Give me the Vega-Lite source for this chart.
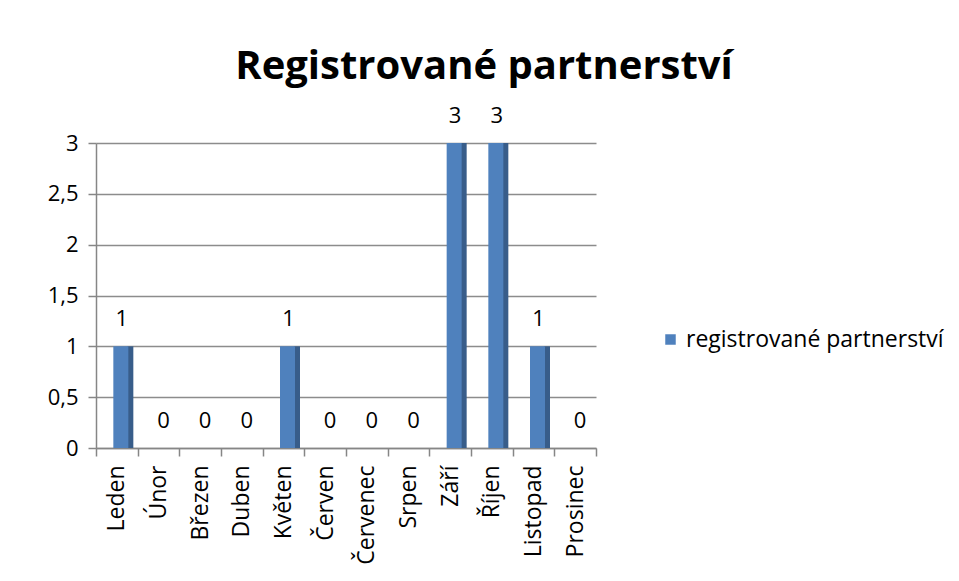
{
  "$schema": "https://vega.github.io/schema/vega-lite/v6.json",
  "autosize": {"type": "none"},
  "width": 500,
  "height": 305,
  "padding": {"left": 96, "top": 143, "right": 363, "bottom": 133},
  "background": "white",
  "title": {
    "text": "Registrované partnerství",
    "font": "Open Sans",
    "fontSize": 40,
    "fontWeight": "bold",
    "color": "#000000",
    "anchor": "middle",
    "frame": "group",
    "dx": 138,
    "offset": 18
  },
  "data": {
    "values": [
      {"mesic": "Leden", "pocet": 1, "serie": "registrované partnerství"},
      {"mesic": "Únor", "pocet": 0, "serie": "registrované partnerství"},
      {"mesic": "Březen", "pocet": 0, "serie": "registrované partnerství"},
      {"mesic": "Duben", "pocet": 0, "serie": "registrované partnerství"},
      {"mesic": "Květen", "pocet": 1, "serie": "registrované partnerství"},
      {"mesic": "Červen", "pocet": 0, "serie": "registrované partnerství"},
      {"mesic": "Červenec", "pocet": 0, "serie": "registrované partnerství"},
      {"mesic": "Srpen", "pocet": 0, "serie": "registrované partnerství"},
      {"mesic": "Září", "pocet": 3, "serie": "registrované partnerství"},
      {"mesic": "Říjen", "pocet": 3, "serie": "registrované partnerství"},
      {"mesic": "Listopad", "pocet": 1, "serie": "registrované partnerství"},
      {"mesic": "Prosinec", "pocet": 0, "serie": "registrované partnerství"}
    ]
  },
  "encoding": {
    "x": {
      "field": "mesic",
      "type": "nominal",
      "sort": null,
      "scale": {"paddingInner": 0, "paddingOuter": 0},
      "axis": {
        "title": null,
        "labelAngle": -90,
        "labelAlign": "right",
        "labelBaseline": "middle",
        "labelFont": "Open Sans",
        "labelFontSize": 23,
        "labelColor": "#000000",
        "labelPadding": 9,
        "labelLimit": 0,
        "tickBand": "extent",
        "tickSize": 8,
        "tickColor": "#868686",
        "tickWidth": 1.5,
        "domainColor": "#868686",
        "domainWidth": 1.5,
        "grid": false
      }
    },
    "y": {
      "field": "pocet",
      "type": "quantitative",
      "scale": {"domain": [0, 3], "nice": false},
      "axis": {
        "title": null,
        "values": [0, 0.5, 1, 1.5, 2, 2.5, 3],
        "labelExpr": "replace(format(datum.value, '~g'), '.', ',')",
        "labelFont": "Open Sans",
        "labelFontSize": 22,
        "labelColor": "#000000",
        "labelPadding": 10,
        "tickSize": 8,
        "tickColor": "#868686",
        "tickWidth": 1.5,
        "domainColor": "#868686",
        "domainWidth": 1.5,
        "grid": true,
        "gridColor": "#8c8c8c",
        "gridWidth": 1.5
      }
    }
  },
  "layer": [
    {
      "mark": {"type": "bar", "width": 6, "xOffset": 13.5, "color": "#385D8A", "y2": 305},
      "encoding": {
        "y": {"field": "pocet", "type": "quantitative"}
      }
    },
    {
      "mark": {"type": "bar", "width": 15, "xOffset": 4, "color": "#4F81BD"},
      "encoding": {
        "color": {
          "field": "serie",
          "type": "nominal",
          "scale": {"range": ["#4F81BD"]},
          "legend": {
            "title": null,
            "orient": "none",
            "legendX": 563,
            "legendY": 185,
            "symbolType": "square",
            "symbolSize": 110,
            "symbolStrokeWidth": 0,
            "labelFont": "Open Sans",
            "labelFontSize": 23,
            "labelColor": "#000000",
            "labelOffset": 4,
            "labelLimit": 0
          }
        }
      }
    },
    {
      "mark": {"type": "text", "font": "Open Sans", "fontSize": 22, "color": "#000000", "dy": -27, "xOffset": 5, "baseline": "middle"},
      "encoding": {
        "text": {"field": "pocet", "type": "quantitative"}
      }
    }
  ],
  "config": {"view": {"stroke": null}}
}
